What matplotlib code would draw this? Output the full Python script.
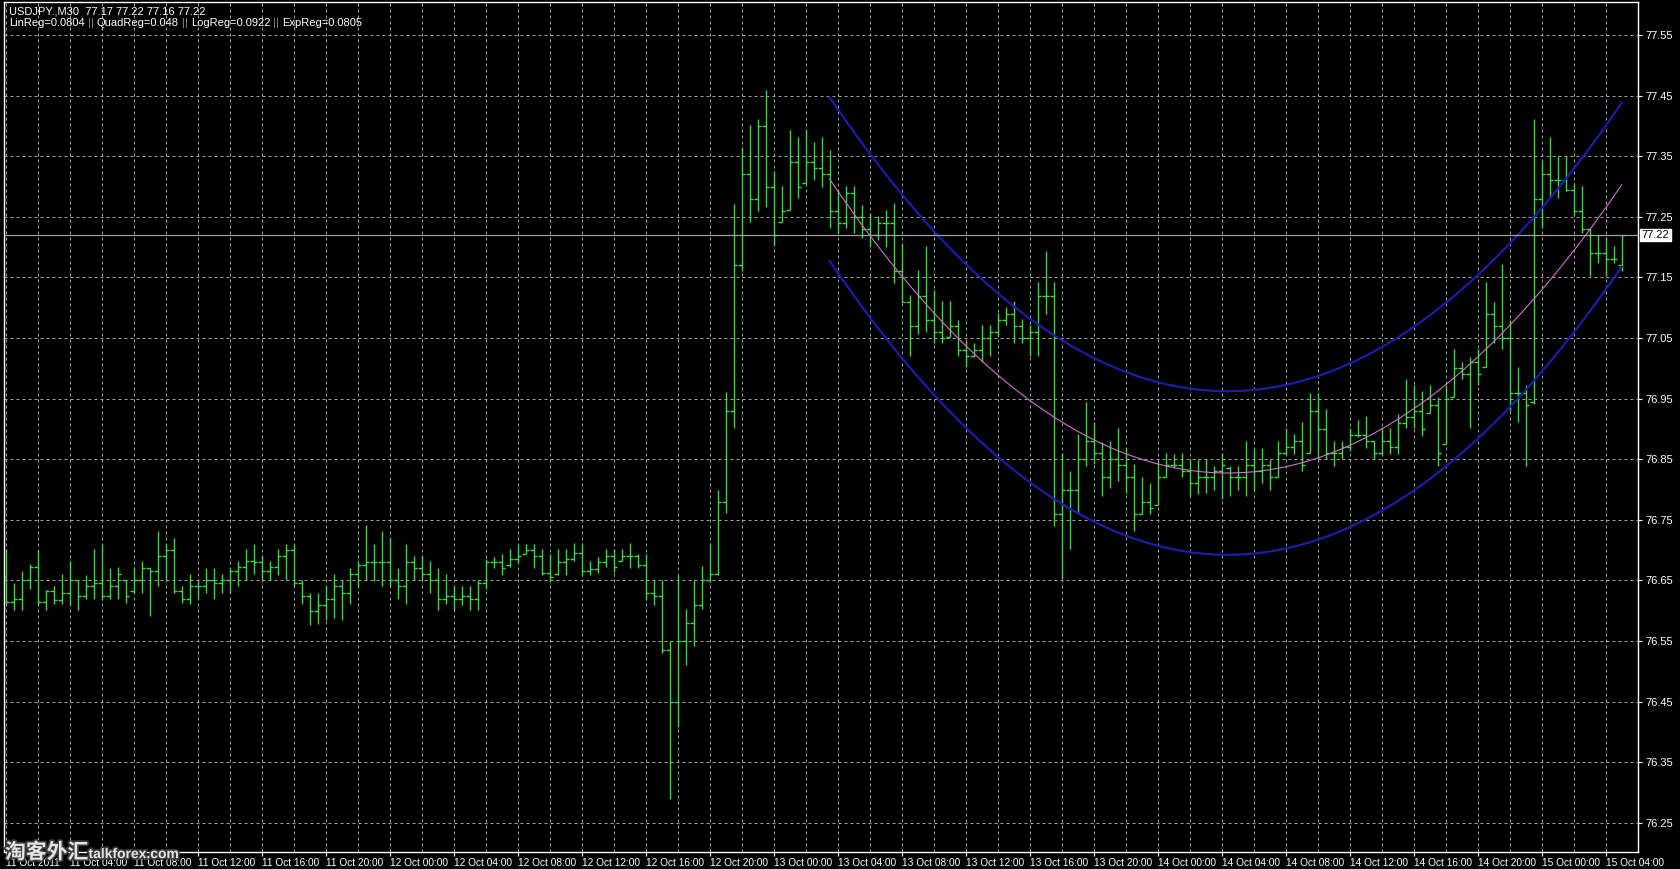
import matplotlib
matplotlib.use("Agg")
import matplotlib.pyplot as plt
import matplotlib.patheffects as pe
import numpy as np

symbol_line = "USDJPY.,M30  77.17 77.22 77.16 77.22"
reg_labels = ["LinReg=0.0804", "QuadReg=0.048", "LogReg=0.0922", "ExpReg=0.0805"]

# M30 bars, 11 Oct 2011 00:00 .. 15 Oct 05:00
opens = [
    76.655, 76.615, 76.620, 76.650, 76.672, 76.615, 76.632, 76.618, 76.630, 76.650,
    76.625, 76.640, 76.645, 76.625, 76.640, 76.650, 76.632, 76.650, 76.670, 76.665,
    76.690, 76.700, 76.632, 76.620, 76.640, 76.640, 76.650, 76.645, 76.650, 76.665,
    76.672, 76.682, 76.680, 76.665, 76.672, 76.690, 76.700, 76.645, 76.625, 76.600,
    76.610, 76.620, 76.640, 76.630, 76.660, 76.675, 76.680, 76.680, 76.680, 76.650,
    76.640, 76.680, 76.670, 76.660, 76.650, 76.620, 76.625, 76.620, 76.625, 76.620,
    76.645, 76.680, 76.680, 76.675, 76.685, 76.693, 76.700, 76.690, 76.662, 76.660,
    76.680, 76.685, 76.695, 76.665, 76.668, 76.680, 76.690, 76.682, 76.690, 76.690,
    76.675, 76.630, 76.625, 76.535, 76.450, 76.550, 76.580, 76.610, 76.650, 76.660,
    76.780, 76.930, 77.170, 77.320, 77.280, 77.400, 77.300, 77.241, 77.262, 77.340,
    77.306, 77.340, 77.330, 77.320, 77.260, 77.240, 77.290, 77.250, 77.230, 77.220,
    77.240, 77.240, 77.160, 77.110, 77.070, 77.120, 77.080, 77.060, 77.052, 77.070,
    77.030, 77.020, 77.030, 77.050, 77.060, 77.080, 77.090, 77.070, 77.050, 77.060,
    77.120, 77.120, 76.760, 76.800, 76.800, 76.850, 76.880, 76.860, 76.820, 76.850,
    76.840, 76.820, 76.760, 76.780, 76.775, 76.820, 76.840, 76.840, 76.830, 76.810,
    76.820, 76.820, 76.830, 76.835, 76.820, 76.820, 76.840, 76.830, 76.840, 76.820,
    76.860, 76.870, 76.880, 76.861, 76.930, 76.900, 76.860, 76.860, 76.870, 76.890,
    76.890, 76.880, 76.860, 76.880, 76.870, 76.910, 76.920, 76.930, 76.927, 76.940,
    76.875, 76.952, 77.000, 76.990, 77.010, 77.002, 77.090, 77.070, 77.050, 76.960,
    76.960, 76.945, 77.280, 77.320, 77.310, 77.310, 77.295, 77.260, 77.230, 77.190,
    77.190, 77.180, 77.170,
]
highs = [
    76.701, 76.645, 76.665, 76.677, 76.700, 76.634, 76.640, 76.660, 76.682, 76.650,
    76.659, 76.701, 76.710, 76.671, 76.672, 76.650, 76.672, 76.682, 76.671, 76.731,
    76.710, 76.720, 76.641, 76.660, 76.650, 76.671, 76.671, 76.660, 76.671, 76.682,
    76.701, 76.710, 76.690, 76.682, 76.701, 76.710, 76.710, 76.650, 76.630, 76.630,
    76.640, 76.660, 76.650, 76.671, 76.682, 76.741, 76.710, 76.731, 76.720, 76.671,
    76.710, 76.690, 76.691, 76.682, 76.671, 76.660, 76.640, 76.640, 76.640, 76.650,
    76.685, 76.689, 76.693, 76.701, 76.710, 76.710, 76.710, 76.701, 76.693, 76.701,
    76.701, 76.712, 76.712, 76.682, 76.689, 76.701, 76.701, 76.701, 76.712, 76.693,
    76.693, 76.651, 76.651, 76.550, 76.659, 76.602, 76.651, 76.674, 76.712, 76.800,
    76.961, 77.271, 77.364, 77.402, 77.411, 77.460, 77.325, 77.301, 77.393, 77.382,
    77.394, 77.373, 77.382, 77.360, 77.295, 77.301, 77.301, 77.270, 77.256, 77.252,
    77.262, 77.272, 77.205, 77.121, 77.162, 77.202, 77.130, 77.111, 77.111, 77.080,
    77.046, 77.042, 77.071, 77.071, 77.091, 77.101, 77.111, 77.082, 77.071, 77.143,
    77.193, 77.143, 76.861, 76.831, 76.891, 76.944, 76.912, 76.878, 76.880, 76.902,
    76.869, 76.842, 76.820, 76.811, 76.847, 76.861, 76.858, 76.861, 76.850, 76.850,
    76.850, 76.839, 76.861, 76.839, 76.839, 76.880, 76.869, 76.869, 76.850, 76.880,
    76.901, 76.891, 76.912, 76.960, 76.960, 76.933, 76.880, 76.880, 76.901, 76.914,
    76.922, 76.880, 76.902, 76.902, 76.925, 76.983, 76.972, 76.963, 76.972, 76.952,
    76.972, 77.032, 77.010, 77.018, 77.032, 77.143, 77.110, 77.172, 77.079, 77.002,
    76.972, 77.412, 77.344, 77.382, 77.350, 77.350, 77.306, 77.301, 77.231, 77.220,
    77.217, 77.202, 77.220,
]
lows = [
    76.611, 76.601, 76.601, 76.636, 76.611, 76.601, 76.611, 76.611, 76.610, 76.601,
    76.620, 76.620, 76.617, 76.620, 76.620, 76.612, 76.630, 76.630, 76.592, 76.640,
    76.650, 76.630, 76.612, 76.611, 76.620, 76.630, 76.620, 76.630, 76.630, 76.641,
    76.650, 76.660, 76.650, 76.650, 76.659, 76.650, 76.640, 76.611, 76.576, 76.578,
    76.585, 76.588, 76.585, 76.611, 76.640, 76.650, 76.649, 76.640, 76.640, 76.620,
    76.611, 76.650, 76.650, 76.630, 76.601, 76.611, 76.601, 76.610, 76.601, 76.601,
    76.636, 76.670, 76.659, 76.672, 76.679, 76.693, 76.670, 76.659, 76.647, 76.659,
    76.659, 76.682, 76.657, 76.659, 76.663, 76.672, 76.664, 76.682, 76.670, 76.670,
    76.617, 76.609, 76.530, 76.290, 76.408, 76.510, 76.541, 76.602, 76.647, 76.659,
    76.762, 76.902, 77.161, 77.242, 77.260, 77.267, 77.204, 77.241, 77.262, 77.281,
    77.306, 77.311, 77.300, 77.231, 77.223, 77.231, 77.223, 77.215, 77.201, 77.212,
    77.201, 77.141, 77.110, 77.020, 77.057, 77.060, 77.041, 77.041, 77.052, 77.021,
    77.002, 77.019, 77.010, 77.021, 77.052, 77.071, 77.041, 77.041, 77.020, 77.020,
    77.090, 76.740, 76.652, 76.701, 76.762, 76.839, 76.842, 76.789, 76.803, 76.814,
    76.795, 76.731, 76.759, 76.759, 76.775, 76.820, 76.836, 76.820, 76.789, 76.792,
    76.795, 76.800, 76.785, 76.790, 76.800, 76.790, 76.800, 76.810, 76.800, 76.820,
    76.858, 76.858, 76.831, 76.861, 76.850, 76.850, 76.839, 76.850, 76.864, 76.886,
    76.869, 76.850, 76.858, 76.858, 76.858, 76.902, 76.902, 76.889, 76.927, 76.839,
    76.875, 76.952, 76.983, 76.902, 76.972, 77.002, 77.041, 77.032, 76.930, 76.911,
    76.839, 76.941, 77.231, 77.281, 77.281, 77.292, 77.251, 77.224, 77.152, 77.173,
    77.152, 77.173, 77.160,
]
closes = [
    76.615, 76.620, 76.650, 76.672, 76.615, 76.632, 76.618, 76.630, 76.650, 76.625,
    76.640, 76.645, 76.625, 76.640, 76.660, 76.625, 76.650, 76.670, 76.665, 76.690,
    76.700, 76.632, 76.620, 76.640, 76.640, 76.650, 76.645, 76.650, 76.665, 76.672,
    76.682, 76.680, 76.665, 76.672, 76.690, 76.700, 76.645, 76.625, 76.600, 76.610,
    76.620, 76.640, 76.630, 76.660, 76.675, 76.680, 76.680, 76.680, 76.650, 76.640,
    76.680, 76.670, 76.660, 76.650, 76.620, 76.625, 76.620, 76.625, 76.620, 76.645,
    76.680, 76.680, 76.670, 76.685, 76.690, 76.700, 76.690, 76.662, 76.655, 76.680,
    76.685, 76.695, 76.665, 76.668, 76.680, 76.690, 76.672, 76.690, 76.690, 76.675,
    76.630, 76.625, 76.535, 76.450, 76.550, 76.580, 76.610, 76.650, 76.660, 76.780,
    76.930, 77.170, 77.320, 77.280, 77.400, 77.300, 77.220, 77.260, 77.340, 77.300,
    77.340, 77.330, 77.320, 77.260, 77.240, 77.290, 77.250, 77.230, 77.220, 77.240,
    77.240, 77.160, 77.110, 77.070, 77.120, 77.080, 77.060, 77.050, 77.070, 77.030,
    77.020, 77.030, 77.050, 77.060, 77.080, 77.090, 77.070, 77.050, 77.060, 77.120,
    77.120, 76.760, 76.800, 76.800, 76.850, 76.880, 76.860, 76.820, 76.850, 76.840,
    76.820, 76.760, 76.780, 76.770, 76.820, 76.840, 76.840, 76.830, 76.810, 76.820,
    76.820, 76.830, 76.840, 76.820, 76.820, 76.840, 76.830, 76.840, 76.820, 76.860,
    76.870, 76.880, 76.840, 76.930, 76.900, 76.860, 76.860, 76.870, 76.890, 76.890,
    76.880, 76.860, 76.880, 76.870, 76.910, 76.920, 76.930, 76.900, 76.940, 76.860,
    76.950, 77.000, 76.990, 77.010, 76.990, 77.090, 77.070, 77.050, 76.960, 76.960,
    76.940, 77.280, 77.320, 77.310, 77.310, 77.295, 77.260, 77.230, 77.190, 77.190,
    77.180, 77.180, 77.220,
]

time_labels = [
    "11 Oct 2011", "11 Oct 04:00", "11 Oct 08:00", "11 Oct 12:00", "11 Oct 16:00", "11 Oct 20:00",
    "12 Oct 00:00", "12 Oct 04:00", "12 Oct 08:00", "12 Oct 12:00", "12 Oct 16:00", "12 Oct 20:00",
    "13 Oct 00:00", "13 Oct 04:00", "13 Oct 08:00", "13 Oct 12:00", "13 Oct 16:00", "13 Oct 20:00",
    "14 Oct 00:00", "14 Oct 04:00", "14 Oct 08:00", "14 Oct 12:00", "14 Oct 16:00", "14 Oct 20:00",
    "15 Oct 00:00", "15 Oct 04:00",
]
price_levels = [76.25, 76.35, 76.45, 76.55, 76.65, 76.75, 76.85, 76.95,
                77.05, 77.15, 77.25, 77.35, 77.45, 77.55]
last_price = 77.22
reg_start = 103          # first bar of the quadratic regression channel
channel_half_width = 0.135

bar_color = "#3cdc3c"
grid_color = "#a0a0a0"
fs = 8
fs_x = 7.3

opens = np.array(opens)
highs = np.array(highs)
lows = np.array(lows)
closes = np.array(closes)
bars = np.arange(len(closes))

fig = plt.figure(figsize=(16.8, 8.69), dpi=100, facecolor="black")
ax = fig.add_axes([4 / 1680, 17 / 869, 1634 / 1680, 850 / 869])
ax.set_facecolor("black")
ax.set_xlim(-0.21, 204.04)
ax.set_ylim(76.2018, 77.6045)

# grid: vertical every 2 hours, labels every 4 hours
ax.set_xticks(np.arange(0, 204, 8), time_labels)
ax.set_xticks(np.arange(4, 204, 8), minor=True)
ax.set_yticks(price_levels)
ax.yaxis.set_major_formatter(matplotlib.ticker.FormatStrFormatter("%.2f"))
ax.yaxis.tick_right()
ax.grid(True, which="both", axis="x", color=grid_color, lw=0.72, ls=(0, (3, 3)))
ax.grid(True, which="major", axis="y", color=grid_color, lw=0.72, ls=(0, (3, 3)))
ax.set_axisbelow(True)
ax.tick_params(axis="x", which="major", colors="white", length=3, width=0.8, pad=1, labelsize=fs_x)
ax.tick_params(axis="x", which="minor", length=0)
ax.tick_params(axis="y", colors="white", length=3, width=0.8, pad=2, labelsize=fs)
for lbl in ax.get_xticklabels() + ax.get_yticklabels():
    lbl.set_fontfamily("Liberation Sans")
for lbl in ax.get_xticklabels():
    lbl.set_horizontalalignment("left")
for s in ax.spines.values():
    s.set_color("white")
    s.set_linewidth(1.0)

# OHLC bars
ax.vlines(bars, lows, highs, color=bar_color, lw=1.0)
ax.hlines(opens, bars - 0.4, bars, color=bar_color, lw=1.0)
ax.hlines(closes, bars, bars + 0.4, color=bar_color, lw=1.0)

# quadratic regression channel on closes
xr = bars[reg_start:]
coef = np.polyfit(xr, closes[reg_start:], 2)
fit = np.polyval(coef, xr)
ax.plot(xr, fit, color="#d070d0", lw=0.8)
ax.plot(xr, fit + channel_half_width, color="#1c1ca8", lw=1.6)
ax.plot(xr, fit - channel_half_width, color="#1c1ca8", lw=1.6)

# current price line and marker
ax.axhline(last_price, color="#a0a0a0", lw=0.9)
ax.annotate(f"{last_price:.2f}", xy=(1, last_price), xycoords=ax.get_yaxis_transform(),
            xytext=(2.5, 0), textcoords="offset points", ha="left", va="center",
            fontsize=fs, family="Liberation Sans", color="black",
            bbox=dict(boxstyle="square,pad=0.12", fc="white", ec="white"))

# header
fig.text(9 / 1680, 1 - 11 / 869, symbol_line, color="white", fontsize=fs,
         family="Liberation Sans", va="center", ha="left")
prev = fig.text(9 / 1680, 1 - 23 / 869, reg_labels[0], color="white", fontsize=fs,
                family="Liberation Sans", va="center", ha="left")
for lab in reg_labels[1:]:
    sep = ax.annotate(" || ", xy=(1, 0.5), xycoords=prev, va="center", ha="left",
                      color="#8a8a8a", fontsize=fs, family="Liberation Sans",
                      annotation_clip=False)
    prev = ax.annotate(lab, xy=(1, 0.5), xycoords=sep, va="center", ha="left",
                       color="white", fontsize=fs, family="Liberation Sans",
                       annotation_clip=False)

# watermark (overlaps the first time labels, as in the source screenshot)
stroke = [pe.withStroke(linewidth=2.5, foreground="#3a3a3a")]
wm = fig.text(5 / 1680, 1 - 852 / 869, "淘客外汇", color="#e4e4e4", fontsize=15,
              weight="bold", family=["Noto Sans CJK SC", "DejaVu Sans"],
              va="center", ha="left", path_effects=stroke)
ax.annotate("talkforex.com", xy=(1, 0.4), xycoords=wm, va="center", ha="left",
            color="#e4e4e4", fontsize=10, weight="bold", family="Liberation Sans",
            path_effects=stroke, annotation_clip=False)

fig.savefig("out.png", dpi=100, facecolor="black")
